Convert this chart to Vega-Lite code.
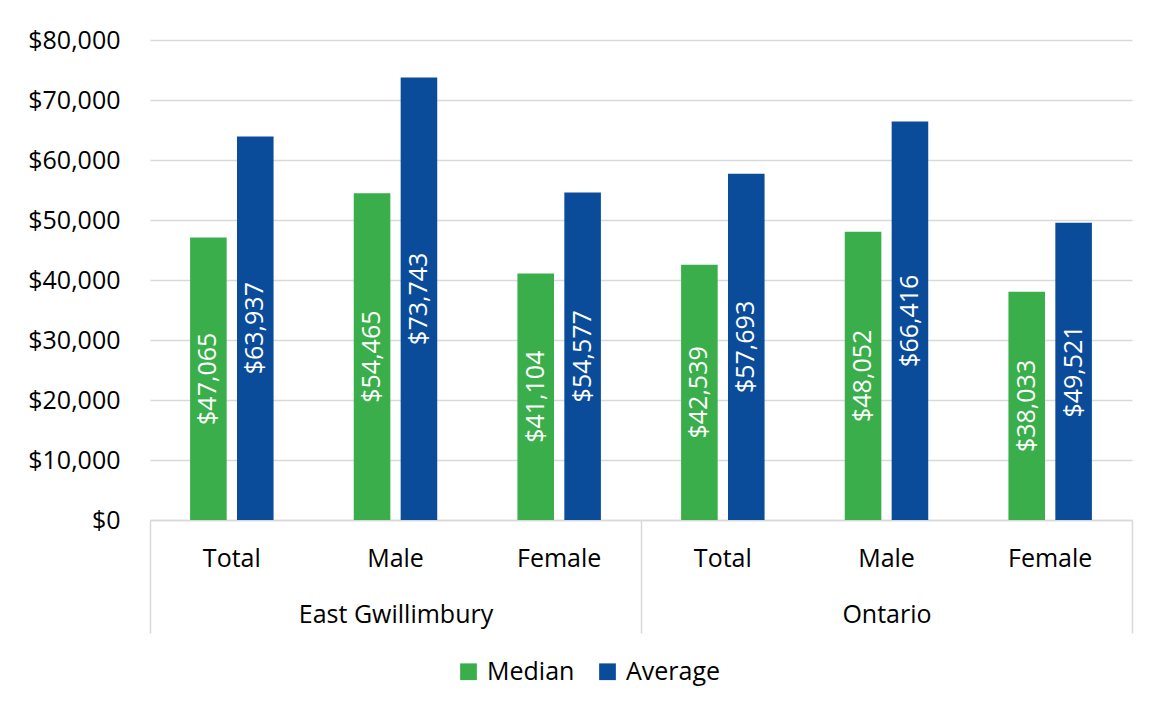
{
  "$schema": "https://vega.github.io/schema/vega-lite/v6.json",
  "width": 982,
  "height": 480,
  "autosize": {"type": "none"},
  "padding": {"left": 150, "top": 40, "right": 22, "bottom": 189},
  "background": "white",
  "config": {"font": "Open Sans", "view": {"stroke": null}},
  "data": {
    "values": [
      {"region": "East Gwillimbury", "category": "Total", "key": "East Gwillimbury|Total", "measure": "Median", "value": 47065},
      {"region": "East Gwillimbury", "category": "Total", "key": "East Gwillimbury|Total", "measure": "Average", "value": 63937},
      {"region": "East Gwillimbury", "category": "Male", "key": "East Gwillimbury|Male", "measure": "Median", "value": 54465},
      {"region": "East Gwillimbury", "category": "Male", "key": "East Gwillimbury|Male", "measure": "Average", "value": 73743},
      {"region": "East Gwillimbury", "category": "Female", "key": "East Gwillimbury|Female", "measure": "Median", "value": 41104},
      {"region": "East Gwillimbury", "category": "Female", "key": "East Gwillimbury|Female", "measure": "Average", "value": 54577},
      {"region": "Ontario", "category": "Total", "key": "Ontario|Total", "measure": "Median", "value": 42539},
      {"region": "Ontario", "category": "Total", "key": "Ontario|Total", "measure": "Average", "value": 57693},
      {"region": "Ontario", "category": "Male", "key": "Ontario|Male", "measure": "Median", "value": 48052},
      {"region": "Ontario", "category": "Male", "key": "Ontario|Male", "measure": "Average", "value": 66416},
      {"region": "Ontario", "category": "Female", "key": "Ontario|Female", "measure": "Median", "value": 38033},
      {"region": "Ontario", "category": "Female", "key": "Ontario|Female", "measure": "Average", "value": 49521}
    ]
  },
  "layer": [
    {
      "layer": [
        {
          "mark": {"type": "bar"},
          "encoding": {
            "x": {
              "field": "key", "type": "nominal", "sort": null,
              "scale": {"paddingInner": 0.49, "paddingOuter": 0.245},
              "axis": {
                "title": null, "labelExpr": "split(datum.value, '|')[1]", "labelAngle": 0,
                "ticks": false, "domainColor": "#d9d9d9", "domainWidth": 1.5,
                "labelFontSize": 25, "labelColor": "#000000", "labelPadding": 26, "labelLimit": 0, "grid": false
              }
            },
            "xOffset": {
              "field": "measure", "type": "nominal", "sort": ["Median", "Average"],
              "scale": {"paddingInner": 0.22, "paddingOuter": 0}
            },
            "y": {
              "field": "value", "type": "quantitative",
              "scale": {"domain": [0, 80000]},
              "axis": {
                "title": null, "format": "$,.0f",
                "values": [0, 10000, 20000, 30000, 40000, 50000, 60000, 70000, 80000],
                "domain": false, "ticks": false, "gridColor": "#d9d9d9", "gridWidth": 1.5,
                "labelFontSize": 25, "labelColor": "#000000", "labelPadding": 30
              }
            },
            "color": {
              "field": "measure", "type": "nominal",
              "scale": {"domain": ["Median", "Average"], "range": ["#39AE4A", "#0A4C9A"]},
              "legend": {
                "orient": "none", "legendX": 306, "legendY": 619, "direction": "horizontal",
                "title": null, "symbolType": "square", "symbolSize": 280, "symbolStrokeWidth": 0,
                "labelFontSize": 25, "labelColor": "#000000", "labelOffset": 6, "columnPadding": 20, "labelLimit": 0
              }
            }
          }
        },
        {
          "mark": {"type": "text", "angle": 270, "color": "white", "fontSize": 25, "align": "center", "baseline": "middle"},
          "encoding": {
            "x": {"field": "key", "type": "nominal", "sort": null},
            "xOffset": {"field": "measure", "type": "nominal", "sort": ["Median", "Average"]},
            "y": {"field": "value", "type": "quantitative", "scale": {"domain": [0, 160000]}, "axis": null},
            "text": {"field": "value", "type": "quantitative", "format": "$,.0f"}
          }
        }
      ],
      "resolve": {"scale": {"y": "independent"}}
    },
    {
      "mark": {"type": "text", "opacity": 0},
      "encoding": {
        "x": {
          "field": "region", "type": "nominal", "sort": null,
          "scale": {"paddingInner": 0, "paddingOuter": 0},
          "axis": {
            "orient": "bottom", "tickBand": "extent", "tickSize": 113, "tickColor": "#d9d9d9", "tickWidth": 1.5,
            "domain": false, "labelPadding": -31, "labelFontSize": 25, "labelColor": "#000000", "labelLimit": 0,
            "labelAngle": 0, "title": null, "grid": false
          }
        },
        "text": {"value": ""}
      }
    }
  ],
  "resolve": {"scale": {"x": "independent"}}
}
